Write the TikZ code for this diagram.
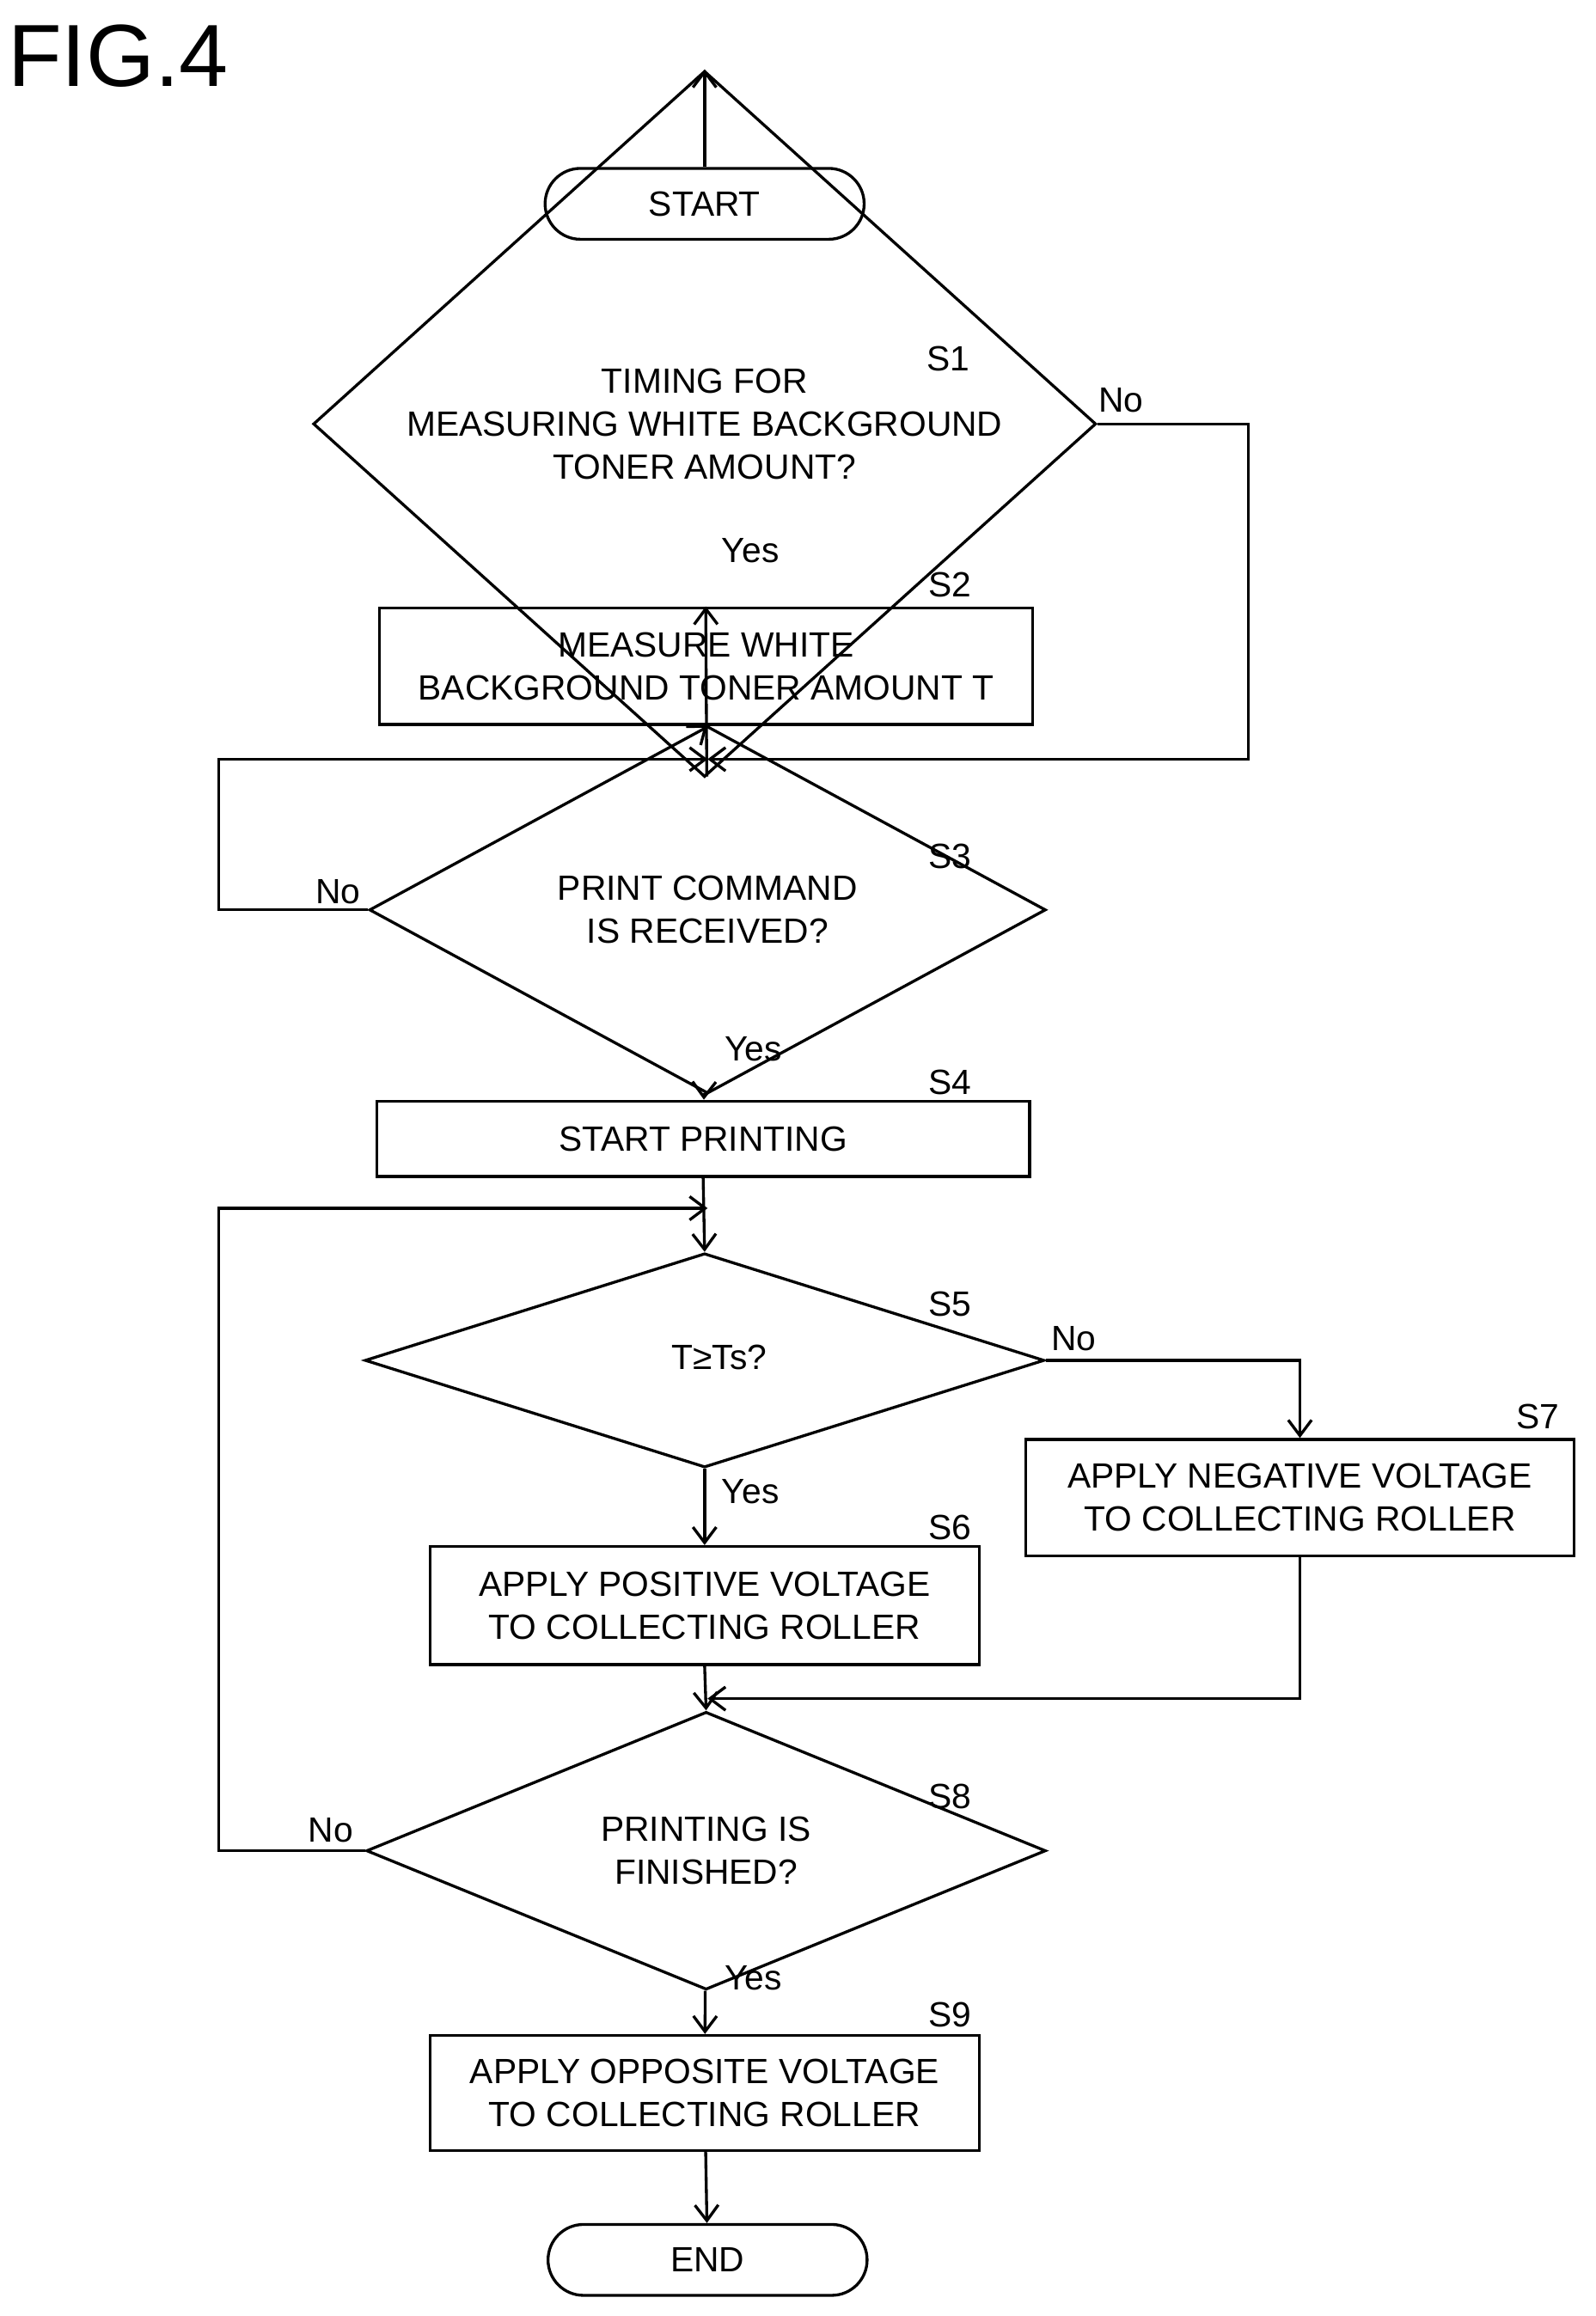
\documentclass[tikz,border=0pt]{standalone}
\usepackage{fontspec}
\setmainfont{Liberation Sans}
\usetikzlibrary{shapes.geometric,arrows.meta}
\begin{document}
\begin{tikzpicture}[x=0.02cm,y=-0.02cm,line width=1.1pt,
  font=\fontsize{13.5}{16.5}\selectfont,
  >={Straight Barb[length=6pt,width=9pt]},
  box/.style={draw,rectangle,inner sep=0pt,align=center},
  term/.style={draw,rectangle,rounded corners=0.48cm,inner sep=0pt,minimum width=216*0.02cm,minimum height=48*0.02cm},
  dia/.style={draw,diamond,inner sep=0pt,align=center},
  lab/.style={inner sep=0pt}]
\useasboundingbox (0,0) rectangle (1080,1568);
\node[lab,font=\fontsize{34}{40}\selectfont] (fig) at (80,38) {FIG.4};
\node[term] (start) at (477,138) {START};
\node[dia,minimum width=530*0.02cm,minimum height=145*0.02cm] (s1) at (477,287) {TIMING FOR\\MEASURING WHITE BACKGROUND\\TONER AMOUNT?};
\node[box,minimum width=442*0.02cm,minimum height=79*0.02cm] (s2) at (478,451) {MEASURE WHITE\\BACKGROUND TONER AMOUNT T};
\node[dia,minimum width=458*0.02cm,minimum height=145*0.02cm] (s3) at (479,616) {PRINT COMMAND\\IS RECEIVED?};
\node[box,minimum width=442*0.02cm,minimum height=51*0.02cm] (s4) at (476,771) {START PRINTING};
\node[dia,minimum width=460*0.02cm,minimum height=145*0.02cm] (s5) at (477,921) {};
\node[lab] (s5t) at (487,919) {T≥Ts?};
\node[box,minimum width=372*0.02cm,minimum height=80*0.02cm] (s6) at (477,1087) {APPLY POSITIVE VOLTAGE\\TO COLLECTING ROLLER};
\node[box,minimum width=371*0.02cm,minimum height=79*0.02cm] (s7) at (880,1014) {APPLY NEGATIVE VOLTAGE\\TO COLLECTING ROLLER};
\node[dia,minimum width=460*0.02cm,minimum height=144*0.02cm] (s8) at (478,1253) {PRINTING IS\\FINISHED?};
\node[box,minimum width=372*0.02cm,minimum height=78*0.02cm] (s9) at (477,1417) {APPLY OPPOSITE VOLTAGE\\TO COLLECTING ROLLER};
\node[term] (end) at (479,1530) {END};
% step labels
\foreach \n/\x/\y in {S1/642/243,S2/643/396,S3/643/580,S4/643/733,S5/643/883,S6/643/1034,S7/1041/959,S8/643/1216,S9/643/1364}
  \node[lab] (l\n) at (\x,\y) {\n};
\node[lab] (y1) at (508,373) {Yes};
\node[lab] (y3) at (510,710) {Yes};
\node[lab] (y5) at (508,1010) {Yes};
\node[lab] (y8) at (510,1339) {Yes};
\node[lab] (n1) at (759,271) {No};
\node[lab] (n3) at (229,604) {No};
\node[lab] (n5) at (727,906) {No};
\node[lab] (n8) at (224,1239) {No};
% merge coordinates
\coordinate (m1) at (479,514);
\coordinate (m2) at (479,818);
\coordinate (m3) at (479,1150);
% connectors
\draw[->] (start) -- (s1);
\draw[->] (s1) -- (s2);
\draw[->] (s2.south) -- (s3.north);
\draw[->] (s1.east) -| (845,514) -- (m1);
\draw[->] (s3.west) -| (148,514) -- (m1);
\draw[->] (s3) -- (s4);
\draw[->] (s4.south) -- (s5.north);
\draw[->] (s8.west) -| (148,818) -- (m2);
\draw[->] (s5.east) -| (s7.north);
\draw[->] (s5) -- (s6);
\draw[->] (s6.south) -- (s8.north);
\draw[->] (s7.south) |- (m3);
\draw[->] (s8) -- (s9);
\draw[->] (s9) -- (end);
\end{tikzpicture}
\end{document}
